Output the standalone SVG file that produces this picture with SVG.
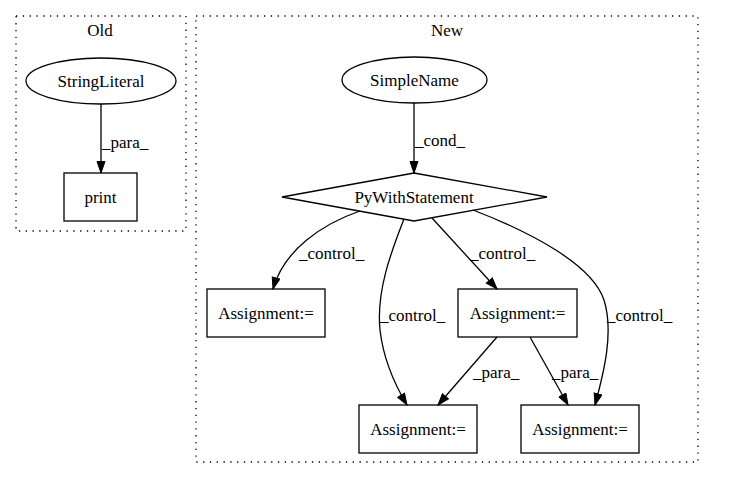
<svg xmlns="http://www.w3.org/2000/svg" width="744" height="480" viewBox="0 0 744 480">
<style>
text{font-family:"Liberation Serif","Times New Roman",serif;font-size:17px;fill:#000}
.cl{fill:none;stroke:#000;stroke-dasharray:1.3,5.5;stroke-width:1.3}
.n{fill:none;stroke:#000;stroke-width:1.3}
.e{fill:none;stroke:#000;stroke-width:1.3}
</style>
<defs>
<marker id="ah" markerWidth="13" markerHeight="11" refX="12" refY="4.5" orient="auto" markerUnits="userSpaceOnUse">
<path d="M0.5,0.5 L12,4.5 L0.5,8.5 Z" fill="#000" stroke="#000"/>
</marker>
</defs>
<rect width="744" height="480" fill="#fff"/>
<g id="cluster_old">
<rect class="cl" x="16" y="16" width="170" height="215"/>
<text x="100" y="36" text-anchor="middle">Old</text>
</g>
<g id="cluster_new">
<rect class="cl" x="196" y="16" width="502" height="446"/>
<text x="447" y="36" text-anchor="middle">New</text>
</g>
<g id="n_stringliteral">
<ellipse class="n" cx="101" cy="81" rx="75" ry="23"/>
<text x="101" y="87" text-anchor="middle">StringLiteral</text>
</g>
<g id="n_print">
<rect class="n" x="64" y="173" width="73" height="48"/>
<text x="100.5" y="203" text-anchor="middle">print</text>
</g>
<g id="n_simplename">
<ellipse class="n" cx="414.5" cy="80" rx="72.5" ry="23"/>
<text x="414.5" y="86" text-anchor="middle">SimpleName</text>
</g>
<g id="n_pywith">
<polygon class="n" points="414,173 547,197 414,221 282,197"/>
<text x="414" y="203" text-anchor="middle">PyWithStatement</text>
</g>
<g id="n_assign1">
<rect class="n" x="207" y="289" width="118" height="48"/>
<text x="266" y="319" text-anchor="middle">Assignment:=</text>
</g>
<g id="n_assign2">
<rect class="n" x="458" y="289" width="119" height="48"/>
<text x="517.5" y="319" text-anchor="middle">Assignment:=</text>
</g>
<g id="n_assign3">
<rect class="n" x="359" y="405" width="118" height="48"/>
<text x="418" y="435" text-anchor="middle">Assignment:=</text>
</g>
<g id="n_assign4">
<rect class="n" x="521" y="405" width="118" height="48"/>
<text x="580" y="435" text-anchor="middle">Assignment:=</text>
</g>
<g id="edges">
<path class="e" d="M101,104 L101,173" marker-end="url(#ah)"/>
<text x="102" y="148">_para_</text>
<path class="e" d="M414,103 L414,173" marker-end="url(#ah)"/>
<text x="415" y="146">_cond_</text>
<path class="e" d="M360,211 C322,224 284,250 273,289" marker-end="url(#ah)"/>
<text x="299" y="259">_control_</text>
<path class="e" d="M404,219 C392,250 376,290 380,330 C384,365 398,390 407,405" marker-end="url(#ah)"/>
<text x="380" y="321">_control_</text>
<path class="e" d="M432,218 L497,289" marker-end="url(#ah)"/>
<text x="470" y="259">_control_</text>
<path class="e" d="M473,210 C530,232 592,264 604,300 C614,332 604,372 595,405" marker-end="url(#ah)"/>
<text x="607" y="321">_control_</text>
<path class="e" d="M497,337 L438,405" marker-end="url(#ah)"/>
<text x="473" y="378">_para_</text>
<path class="e" d="M530,337 L568,405" marker-end="url(#ah)"/>
<text x="552" y="378">_para_</text>
</g>
</svg>
